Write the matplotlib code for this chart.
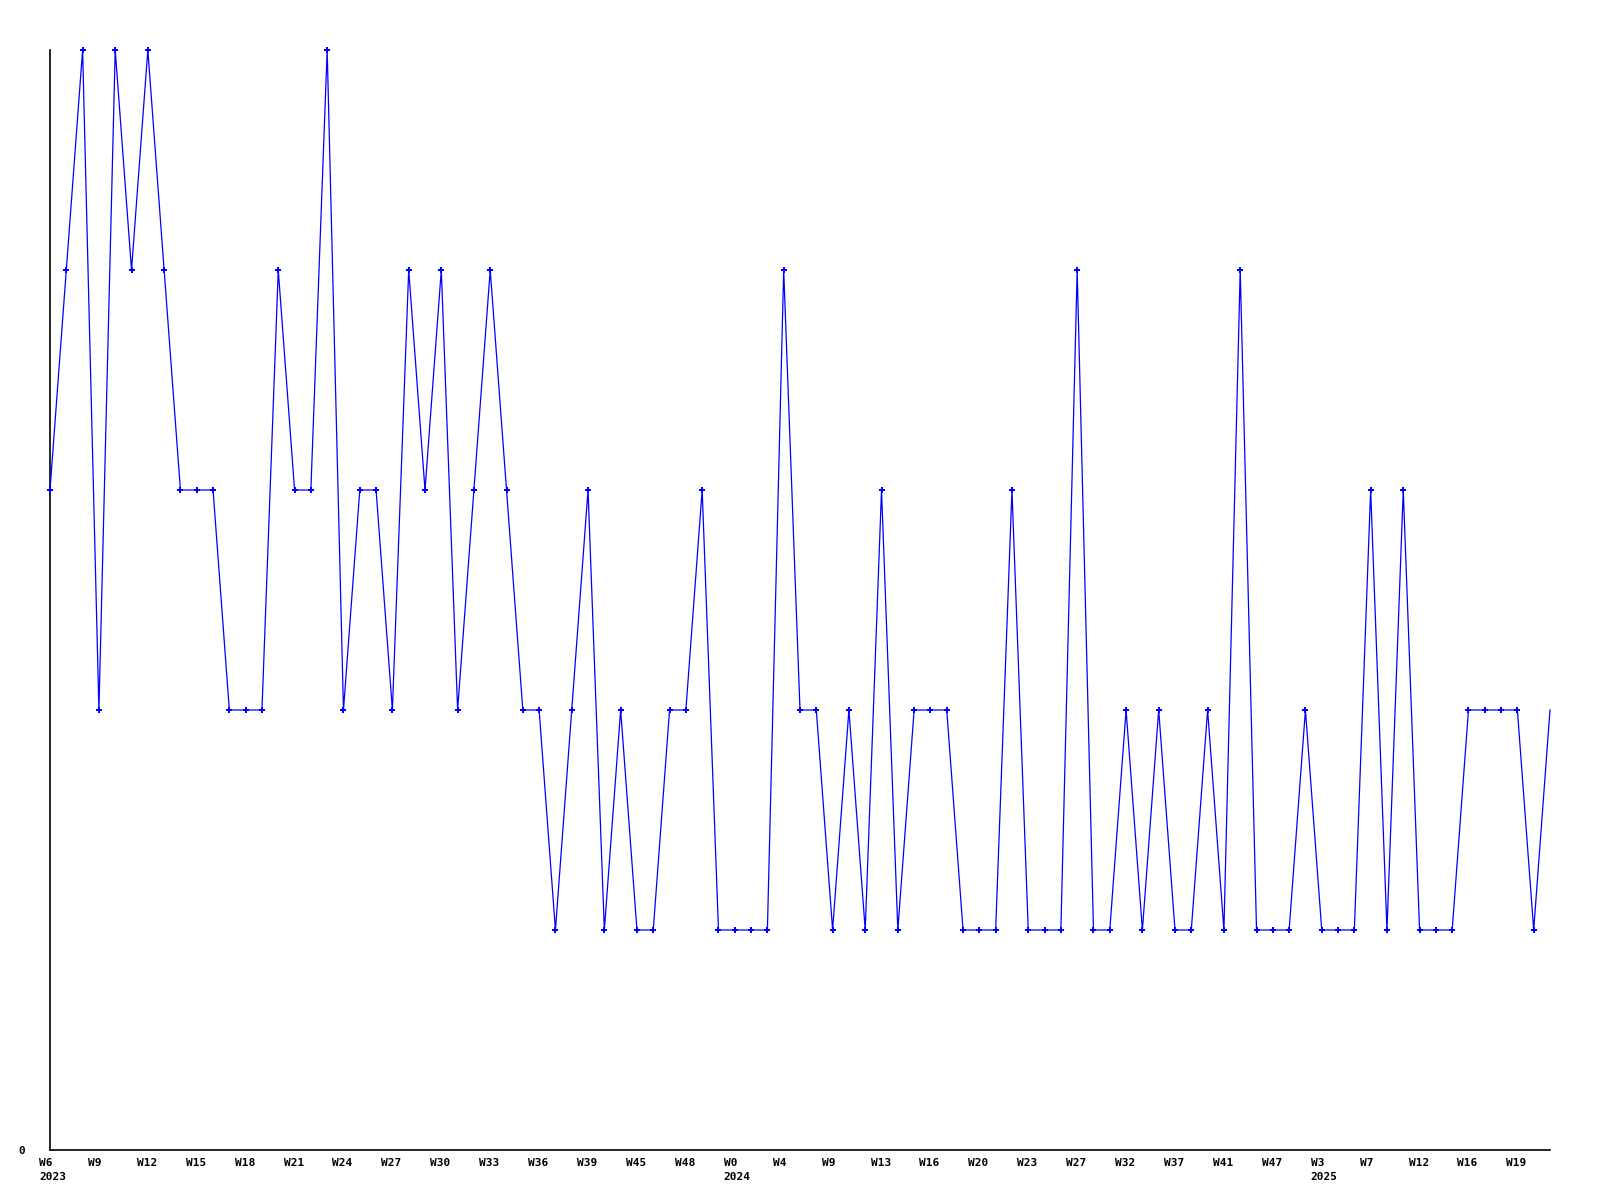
import matplotlib
matplotlib.use("Agg")
import matplotlib.pyplot as plt
import matplotlib.transforms as mtransforms

values = [3, 4, 5, 2, 5, 4, 5, 4, 3, 3,
          3, 2, 2, 2, 4, 3, 3, 5, 2, 3,
          3, 2, 4, 3, 4, 2, 3, 4, 3, 2,
          2, 1, 2, 3, 1, 2, 1, 1, 2, 2,
          3, 1, 1, 1, 1, 4, 2, 2, 1, 2,
          1, 3, 1, 2, 2, 2, 1, 1, 1, 3,
          1, 1, 1, 4, 1, 1, 2, 1, 2, 1,
          1, 2, 1, 4, 1, 1, 1, 2, 1, 1,
          1, 3, 1, 3, 1, 1, 1, 2, 2, 2,
          2, 1, 2]

week_labels = ["W6", "W9", "W12", "W15", "W18", "W21", "W24", "W27", "W30", "W33",
               "W36", "W39", "W45", "W48", "W0", "W4", "W9", "W13", "W16", "W20",
               "W23", "W27", "W32", "W37", "W41", "W47", "W3", "W7", "W12", "W16",
               "W19"]
year_labels = {"W6": "2023", "W0": "2024", "W3": "2025"}

x = list(range(len(values)))
tick_pos = list(range(0, len(values), 3))[:len(week_labels)]
labels = []
for w in week_labels:
    labels.append(w + ("\n" + year_labels[w] if w in year_labels else ""))

fig = plt.figure(figsize=(16, 12), dpi=100)
ax = fig.add_axes([50/1600, 50/1200, 1500/1600, 1100/1200])
ax.plot(x, values, color="#0000ff", linewidth=0.9, marker="P", markersize=5,
        markeredgewidth=0, markevery=slice(0, len(values) - 1), clip_on=False,
        zorder=3)
ax.set_xlim(0, len(values) - 1)
ax.set_ylim(0, 5)

for s in ["top", "right"]:
    ax.spines[s].set_visible(False)
for s in ["left", "bottom"]:
    ax.spines[s].set_linewidth(1.2)
    ax.spines[s].set_color("black")

font = dict(family="DejaVu Sans Mono", weight="bold", size=8)
ax.set_yticks([0])
ax.set_yticklabels(["0"], fontdict=font)
ax.tick_params(axis="y", length=0, pad=18)
ax.set_xticks(tick_pos)
ax.set_xticklabels(labels, fontdict=font, ha="left", linespacing=1.5)
ax.tick_params(axis="x", length=0, pad=6)
offset = mtransforms.ScaledTranslation(-11/100, 0, fig.dpi_scale_trans)
for lab in ax.get_xticklabels():
    lab.set_transform(lab.get_transform() + offset)

fig.savefig("out.png", dpi=100)
